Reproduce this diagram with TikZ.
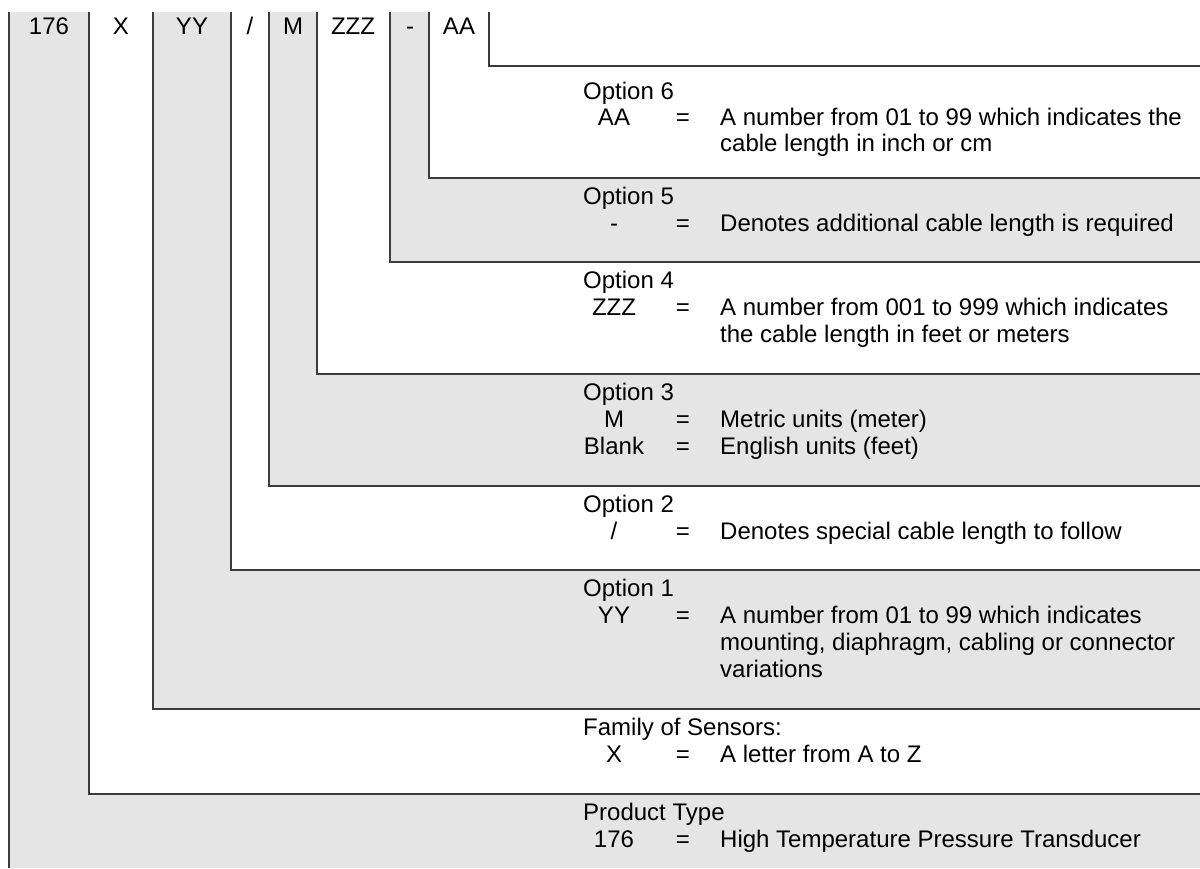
\documentclass[tikz,border=0pt]{standalone}
\usepackage{fontspec}
\setmainfont{Liberation Sans}
\definecolor{band}{RGB}{229,229,229}
\definecolor{rulec}{RGB}{60,60,60}
\begin{document}
\begin{tikzpicture}[x=1pt,y=-1pt,
  rulel/.style={draw=rulec,line width=1.7pt},
  txt/.style={inner sep=0pt,font=\fontsize{24}{27}\selectfont},
  head/.style={txt,anchor=base west},
  key/.style={txt,anchor=base},
  eqs/.style={txt,anchor=base},
  desc/.style={txt,anchor=base west}]
\useasboundingbox (0,0) rectangle (1200,868);
\fill[white] (0,0) rectangle (1200,868);
% gray bands
\fill[band] (9,12) -- (89,12) -- (89,794) -- (1200,794) -- (1200,868) -- (9,868) -- cycle;
\fill[band] (153,12) -- (231,12) -- (231,570) -- (1200,570) -- (1200,709) -- (153,709) -- cycle;
\fill[band] (269,12) -- (317,12) -- (317,374) -- (1200,374) -- (1200,486) -- (269,486) -- cycle;
\fill[band] (390,12) -- (429,12) -- (429,178) -- (1200,178) -- (1200,262) -- (390,262) -- cycle;
% L-shaped rules
\draw[rulel] (9,12) -- (9,868);
\draw[rulel] (89,12) -- (89,794) -- (1200,794);
\draw[rulel] (153,12) -- (153,709) -- (1200,709);
\draw[rulel] (231,12) -- (231,570) -- (1200,570);
\draw[rulel] (269,12) -- (269,486) -- (1200,486);
\draw[rulel] (317,12) -- (317,374) -- (1200,374);
\draw[rulel] (390,12) -- (390,262) -- (1200,262);
\draw[rulel] (429,12) -- (429,178) -- (1200,178);
\draw[rulel] (489,12) -- (489,66) -- (1200,66);
% code letters
\node[key] (c176) at (49,34) {176};
\node[key] (cX) at (121,34) {X};
\node[key] (cYY) at (192,34) {YY};
\node[key] (cSl) at (250,34) {/};
\node[key] (cM) at (293,34) {M};
\node[key] (cZ) at (353,34) {ZZZ};
\node[key] (cDash) at (410,34) {-};
\node[key] (cAA) at (459,34) {AA};
% Option 6
\node[head] (h6) at (583,99) {Option 6};
\node[key] (k6) at (614,125) {AA};
\node[eqs] (e6) at (683,125) {=};
\node[desc] (d6a) at (720,125) {A number from 01 to 99 which indicates the};
\node[desc] (d6b) at (720,151) {cable length in inch or cm};
% Option 5
\node[head] (h5) at (583,204) {Option 5};
\node[key] (k5) at (614,231) {-};
\node[eqs] (e5) at (683,231) {=};
\node[desc] (d5) at (720,231) {Denotes additional cable length is required};
% Option 4
\node[head] (h4) at (583,288) {Option 4};
\node[key] (k4) at (614,315) {ZZZ};
\node[eqs] (e4) at (683,315) {=};
\node[desc] (d4a) at (720,315) {A number from 001 to 999 which indicates};
\node[desc] (d4b) at (720,342) {the cable length in feet or meters};
% Option 3
\node[head] (h3) at (583,400) {Option 3};
\node[key] (k3a) at (614,427) {M};
\node[eqs] (e3a) at (683,427) {=};
\node[desc] (d3a) at (720,427) {Metric units (meter)};
\node[key] (k3b) at (614,454) {Blank};
\node[eqs] (e3b) at (683,454) {=};
\node[desc] (d3b) at (720,454) {English units (feet)};
% Option 2
\node[head] (h2) at (583,512) {Option 2};
\node[key] (k2) at (614,539) {/};
\node[eqs] (e2) at (683,539) {=};
\node[desc] (d2) at (720,539) {Denotes special cable length to follow};
% Option 1
\node[head] (h1) at (583,596) {Option 1};
\node[key] (k1) at (614,623) {YY};
\node[eqs] (e1) at (683,623) {=};
\node[desc] (d1a) at (720,623) {A number from 01 to 99 which indicates};
\node[desc] (d1b) at (720,650) {mounting, diaphragm, cabling or connector};
\node[desc] (d1c) at (720,677) {variations};
% Family
\node[head] (hf) at (583,735) {Family of Sensors:};
\node[key] (kf) at (614,762) {X};
\node[eqs] (ef) at (683,762) {=};
\node[desc] (df) at (720,762) {A letter from A to Z};
% Product type
\node[head] (hp) at (583,820) {Product Type};
\node[key] (kp) at (614,847) {176};
\node[eqs] (ep) at (683,847) {=};
\node[desc] (dp) at (720,847) {High Temperature Pressure Transducer};
\end{tikzpicture}
\end{document}
